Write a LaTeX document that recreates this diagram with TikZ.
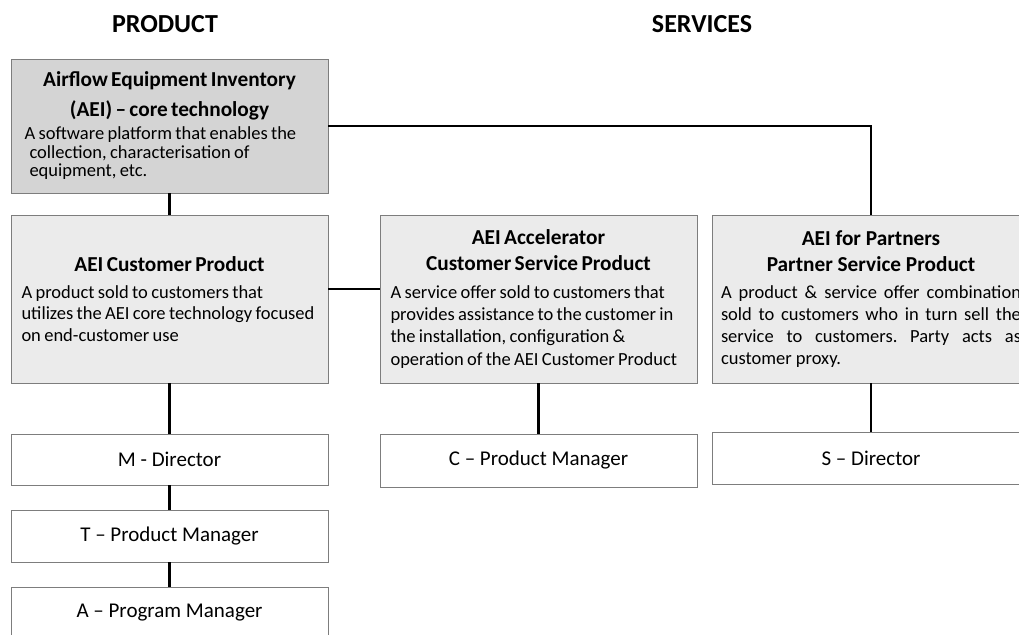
\documentclass[tikz,border=0pt]{standalone}
\usepackage{fontspec}
\setmainfont{Carlito}
\usetikzlibrary{positioning,calc}
\definecolor{coregray}{RGB}{212,212,212}
\definecolor{prodgray}{RGB}{235,235,235}
\definecolor{boxline}{RGB}{125,125,125}
\newcommand{\boxhead}[2][26]{{\centering\bfseries\fontsize{21.3}{#1}\selectfont #2\par}}
\newcommand{\boxbody}[2][21.8]{{\raggedright\fontsize{18.5}{#1}\selectfont #2\par}}
\tikzset{
  box/.style={draw=boxline, line width=0.9pt, minimum width=317pt, inner sep=0pt},
  corebox/.style={box, fill=coregray, minimum height=134pt, text width=296pt},
  prodbox/.style={box, fill=prodgray, minimum height=168pt, text width=296pt},
  rolebox/.style={box, fill=white, font=\fontsize{21}{24}\selectfont},
  link/.style={line width=2.5pt, black},
  head/.style={font=\fontsize{26}{30}\selectfont\bfseries}
}

\begin{document}
\begin{tikzpicture}[x=1pt,y=-1pt]
% ==========================================
\clip (0,0) rectangle (1019,634);
\node[head] (prodhead) at (165,24) {PRODUCT};
\node[head] (servhead) at (702,24) {SERVICES};
%
\node[corebox] (core) at (169.5,126) {\boxhead[29.5]{Airflow Equipment Inventory\\(AEI) -- core technology}\vspace{5pt}%
  \boxbody[18.5]{\hspace*{3pt}A software platform that enables the\\\hspace*{8pt}collection, characterisation of\\\hspace*{8pt}equipment, etc.}};
\node[prodbox] (cust) at (169.5,299) {\boxhead{AEI Customer Product}\vspace{5pt}%
  \boxbody{A product sold to customers that\\utilizes the AEI core technology focused\\on end-customer use}};
\node[prodbox] (accel) at (538.5,299) {\boxhead{AEI Accelerator\\Customer Service Product}\vspace{5pt}%
  \boxbody[22.3]{A service offer sold to customers that\\provides assistance to the customer in\\the installation, configuration \&\\operation of the AEI Customer Product}};
\node[prodbox, text width=300pt, align=justify] (partner) at (871,299) {\boxhead{AEI for Partners\\Partner Service Product}\vspace{5pt}%
  {\frenchspacing\leftskip=0pt\rightskip=0pt\parfillskip=0pt plus 1fil\fontsize{18.5}{22}\selectfont A product \& service offer combination\linebreak sold to customers who in turn sell the\linebreak service to customers. Party acts as\linebreak customer proxy.\par}};
%
\node[rolebox, minimum height=51pt] (mdir) at (169.5,459.5) {M - Director};
\node[rolebox, minimum height=52pt] (tpm) at (169.5,536) {T -- Product Manager};
\node[rolebox, minimum height=51pt] (apm) at (169.5,612.5) {A -- Program Manager};
\node[rolebox, minimum height=53pt] (cpm) at (538.5,460.5) {C -- Product Manager};
\node[rolebox, minimum height=52pt] (sdir) at (871,458) {S -- Director};
% =============================================
\draw[link] (core.south) -- (cust.north);
\draw[link] (core.east) -| (partner.north);%Core to partners.
\draw[link] ([yshift=10pt]cust.east) -- ([yshift=10pt]accel.west);
\draw[link] (cust.south) -- (mdir.north);
\draw[link] (mdir.south) -- (tpm.north);
\draw[link] (tpm.south) -- (apm.north);
\draw[link] (accel.south) -- (cpm.north);
\draw[link] (partner.south) -- (sdir.north);
% =============================================
\end{tikzpicture}
\end{document}
